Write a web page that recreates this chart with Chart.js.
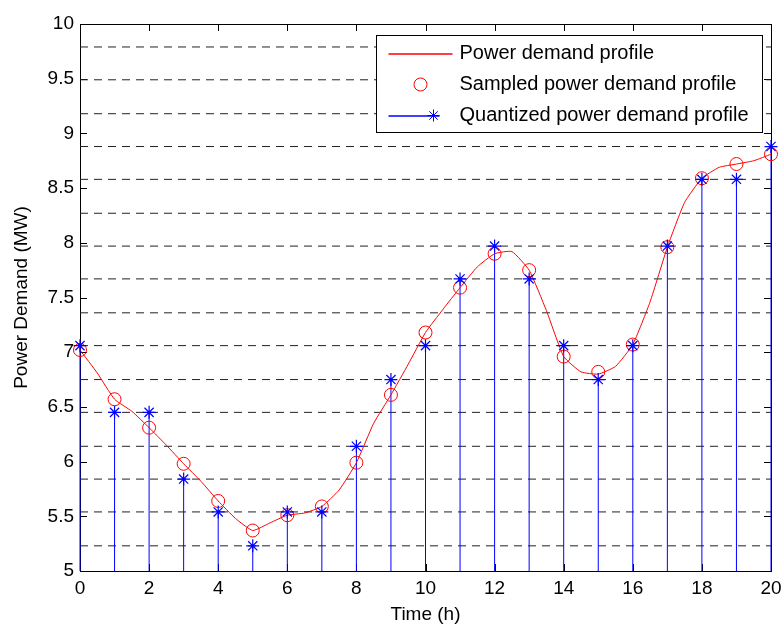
<!DOCTYPE html>
<html>
<head>
<meta charset="utf-8">
<title>Power demand profile</title>
<script src="https://cdn.jsdelivr.net/npm/chart.js@4.4.0/dist/chart.umd.min.js"></script>
<style>
    body { margin: 0; background: #fff; }
    canvas { display: block; }
</style>
</head>
<body>
<canvas id="grafico" width="783" height="626"></canvas>
<script>
/* DADOS */

const curve_time = [0, 0.5, 1, 1.5, 2, 2.5, 3, 3.5, 4, 4.5, 5, 5.5, 6, 6.5, 7, 7.5, 8, 8.5, 9, 9.5, 10,
    10.5, 11, 11.5, 12, 12.5, 13, 13.5, 14, 14.5, 15, 15.5, 16, 16.5, 17, 17.5, 18, 18.5, 19, 19.5, 20];
const curve_demand = [7.02, 6.81, 6.57, 6.46, 6.31, 6.15, 5.98, 5.82, 5.64, 5.48, 5.37, 5.44, 5.51, 5.53, 5.59, 5.74, 5.99, 6.35, 6.61, 6.89, 7.18,
    7.39, 7.59, 7.78, 7.90, 7.92, 7.75, 7.38, 6.96, 6.82, 6.80, 6.87, 7.07, 7.46, 7.96, 8.37, 8.59, 8.69, 8.72, 8.75, 8.81];

const sample_time = [0, 1, 2, 3, 4, 5, 6, 7, 8, 9, 10, 11, 12, 13, 14, 15, 16, 17, 18, 19, 20];
const sampled_demand = [7.02, 6.57, 6.31, 5.98, 5.64, 5.37, 5.51, 5.59, 5.99, 6.61, 7.18, 7.59, 7.90, 7.75, 6.96, 6.82, 7.07, 7.96, 8.59, 8.72, 8.81];
const quantized_demand = [7.06, 6.45, 6.45, 5.84, 5.54, 5.23, 5.54, 5.54, 6.14, 6.75, 7.06, 7.67, 7.97, 7.67, 7.06, 6.75, 7.06, 7.97, 8.58, 8.58, 8.88];

const quant_levels = [5.23, 5.54, 5.84, 6.14, 6.45, 6.75, 7.06, 7.36, 7.67, 7.97, 8.27, 8.58, 8.88, 9.18, 9.49, 9.79];

const x_ticks = [0, 2, 4, 6, 8, 10, 12, 14, 16, 18, 20];
const y_ticks = [5, 5.5, 6, 6.5, 7, 7.5, 8, 8.5, 9, 9.5, 10];
const y_tick_labels = ['5', '5.5', '6', '6.5', '7', '7.5', '8', '8.5', '9', '9.5', '10'];

const x_min = 0, x_max = 20, y_min = 5, y_max = 10;

const fonte = "'Liberation Sans', Arial, sans-serif";

/* CONJUNTOS */

const data_curva = curve_time.map((t, i) => ({ x: t, y: curve_demand[i] }));
const data_amostras = sample_time.map((t, i) => ({ x: t, y: sampled_demand[i] }));
const data_quantizado = sample_time.map((t, i) => ({ x: t, y: quantized_demand[i] }));

// hastes do stem: base -> valor, depois um buraco
const data_hastes = [];
for (var i = 0; i < sample_time.length; i++) {
    data_hastes.push({ x: sample_time[i], y: y_min });
    data_hastes.push({ x: sample_time[i], y: quantized_demand[i] });
    data_hastes.push({ x: sample_time[i], y: null });
}

const niveis = quant_levels.map(level => ({
    data: [{ x: x_min, y: level }, { x: x_max, y: level }],
    borderColor: '#222',
    borderWidth: 1,
    borderDash: [8, 6],
    pointRadius: 0,
    order: 6
}));

/* MOLDURA E TICKS PARA DENTRO */

const moldura = {
    id: 'moldura',
    beforeDatasetsDraw(chart) {
        const { ctx, chartArea: a, scales } = chart;
        const tl = 7;
        ctx.save();
        ctx.strokeStyle = '#000';
        ctx.lineWidth = 1;
        ctx.strokeRect(Math.round(a.left) + 0.5, Math.round(a.top) + 0.5, Math.round(a.right - a.left), Math.round(a.bottom - a.top));
        ctx.beginPath();
        scales.x.ticks.forEach(t => {
            const px = Math.round(scales.x.getPixelForValue(t.value)) + 0.5;
            ctx.moveTo(px, a.bottom); ctx.lineTo(px, a.bottom - tl);
            ctx.moveTo(px, a.top); ctx.lineTo(px, a.top + tl);
        });
        scales.y.ticks.forEach(t => {
            const py = Math.round(scales.y.getPixelForValue(t.value)) + 0.5;
            ctx.moveTo(a.left, py); ctx.lineTo(a.left + tl, py);
            ctx.moveTo(a.right, py); ctx.lineTo(a.right - tl, py);
        });
        ctx.stroke();
        ctx.restore();
    }
};

/* LEGENDA DENTRO DO GRÁFICO */

const legenda = {
    id: 'legenda',
    afterDraw(chart) {
        const { ctx, chartArea: a } = chart;
        const itens = chart.data.datasets.filter(d => d.label);
        const w = 386, h = 97;
        const x0 = Math.round(a.right - 9 - w) + 0.5;
        const y0 = Math.round(a.top + 11) + 0.5;
        ctx.save();
        ctx.fillStyle = '#fff';
        ctx.fillRect(x0, y0, w, h);
        ctx.strokeStyle = '#000';
        ctx.lineWidth = 1;
        ctx.strokeRect(x0, y0, w, h);
        ctx.font = '20px ' + fonte;
        ctx.textBaseline = 'middle';
        ctx.textAlign = 'left';
        itens.forEach((d, i) => {
            const yy = y0 + 18 + i * 31;
            const yl = Math.round(yy); // linha da amostra em dois pixels, para ficar colorida
            ctx.strokeStyle = d.borderColor;
            ctx.lineWidth = 1.3;
            if (d.legenda_tipo === 'linha') {
                ctx.beginPath(); ctx.moveTo(x0 + 12, yl); ctx.lineTo(x0 + 76, yl); ctx.stroke();
            } else if (d.legenda_tipo === 'circulo') {
                ctx.lineWidth = 1;
                ctx.beginPath(); ctx.arc(x0 + 44, yy, 6.5, 0, Math.PI * 2); ctx.stroke();
            } else {
                ctx.beginPath(); ctx.moveTo(x0 + 12, yl); ctx.lineTo(x0 + 63, yl); ctx.stroke();
                ctx.lineWidth = 1;
                const sx = x0 + 57, r = 6;
                const q = r * Math.SQRT1_2;
                ctx.beginPath();
                ctx.moveTo(sx - r, yy); ctx.lineTo(sx + r, yy);
                ctx.moveTo(sx, yy - r); ctx.lineTo(sx, yy + r);
                ctx.moveTo(sx - q, yy - q); ctx.lineTo(sx + q, yy + q);
                ctx.moveTo(sx - q, yy + q); ctx.lineTo(sx + q, yy - q);
                ctx.stroke();
            }
            ctx.fillStyle = '#000';
            ctx.fillText(d.label, x0 + 83, yy);
        });
        ctx.restore();
    }
};

/* GRÁFICO */

Chart.defaults.color = '#000';
Chart.defaults.font.family = fonte;

const config = {
    type: 'line',
    data: {
        datasets: [
            {
                label: 'Power demand profile',
                legenda_tipo: 'linha',
                data: data_curva,
                borderColor: '#ff0000',
                borderWidth: 1,
                pointRadius: 0,
                tension: 0.15,
                order: 3
            },
            {
                label: 'Sampled power demand profile',
                legenda_tipo: 'circulo',
                data: data_amostras,
                showLine: false,
                borderColor: '#ff0000',
                backgroundColor: 'rgba(0,0,0,0)',
                borderWidth: 1,
                pointStyle: 'circle',
                pointRadius: 6.5,
                clip: false,
                order: 2
            },
            {
                data: data_hastes,
                borderColor: '#0000ff',
                borderWidth: 1,
                pointRadius: 0,
                spanGaps: false,
                clip: false,
                order: 4
            },
            {
                label: 'Quantized power demand profile',
                legenda_tipo: 'stem',
                data: data_quantizado,
                showLine: false,
                borderColor: '#0000ff',
                backgroundColor: '#0000ff',
                borderWidth: 1.2,
                pointStyle: 'star',
                pointRadius: 6.5,
                clip: false,
                order: 1
            },
            ...niveis
        ]
    },
    options: {
        responsive: false,
        animation: false,
        layout: { padding: { top: 24, right: 12, bottom: 0, left: 0 } },
        scales: {
            x: {
                type: 'linear',
                min: x_min,
                max: x_max,
                afterBuildTicks: s => { s.ticks = x_ticks.map(v => ({ value: v })); },
                afterFit: s => { s.height = 55; s.paddingLeft = 0; s.paddingRight = 0; },
                grid: { display: false, drawTicks: false },
                border: { display: false },
                ticks: { padding: 6, font: { size: 19 } },
                title: { display: true, text: 'Time (h)', font: { size: 19 }, padding: { top: 0, bottom: 0 } }
            },
            y: {
                type: 'linear',
                min: y_min,
                max: y_max,
                afterBuildTicks: s => { s.ticks = y_ticks.map(v => ({ value: v })); },
                afterFit: s => { s.width = 80; s.paddingTop = 0; s.paddingBottom = 0; },
                grid: { display: false, drawTicks: false },
                border: { display: false },
                ticks: {
                    padding: 6,
                    font: { size: 19 },
                    callback: (v, i) => y_tick_labels[i]
                },
                title: { display: true, text: 'Power Demand (MW)', font: { size: 19 }, padding: { top: 10, bottom: 0 } }
            }
        },
        plugins: {
            legend: { display: false },
            tooltip: { enabled: false }
        }
    },
    plugins: [moldura, legenda]
};

const grafico = new Chart(document.getElementById('grafico'), config);
</script>
</body>
</html>
